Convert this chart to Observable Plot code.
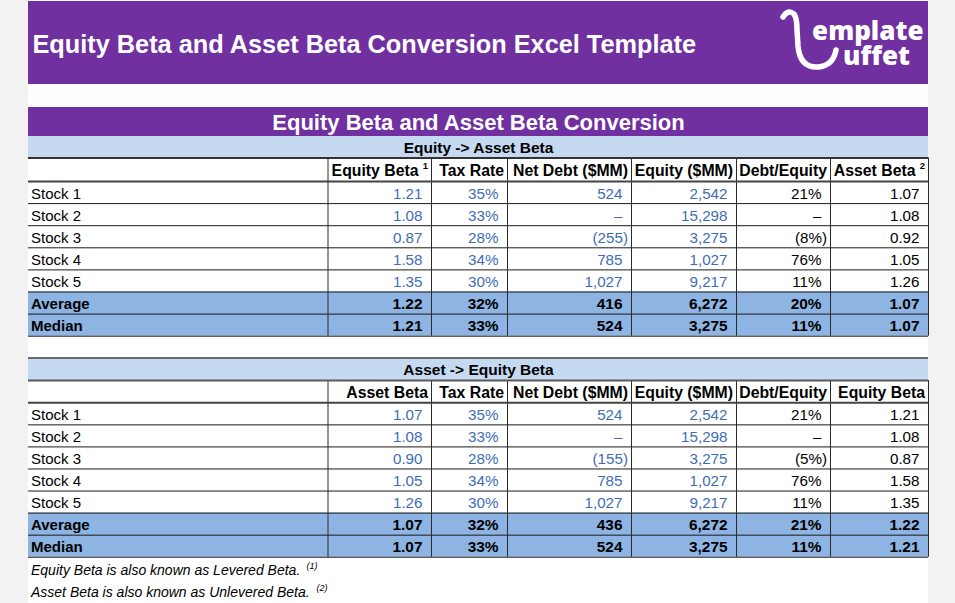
<!DOCTYPE html>
<html><head><meta charset="utf-8">
<script src="https://cdn.jsdelivr.net/npm/d3@7"></script>
<script src="https://cdn.jsdelivr.net/npm/@observablehq/plot@0.6"></script>
<style>
html,body{margin:0;padding:0;background:#f2f2f2;}
#chart svg{display:block;}
</style></head><body><div id="chart"></div>
<script>
// ---------- data ----------
const pageTitle = "Equity Beta and Asset Beta Conversion Excel Template";
const sectionTitle = "Equity Beta and Asset Beta Conversion";
const subTitles = ["Equity -> Asset Beta", "Asset -> Equity Beta"];
const rowLabels = ["Stock 1", "Stock 2", "Stock 3", "Stock 4", "Stock 5", "Average", "Median"];
const headers1 = ["Equity Beta", "Tax Rate", "Net Debt ($MM)", "Equity ($MM)", "Debt/Equity", "Asset Beta"];
const headerNotes1 = ["1", "", "", "", "", "2"];
const headers2 = ["Asset Beta", "Tax Rate", "Net Debt ($MM)", "Equity ($MM)", "Debt/Equity", "Equity Beta"];
const headerNotes2 = ["", "", "", "", "", ""];
const columnKinds = ["beta", "pct", "num", "num", "pct", "beta"];

// Table 1: Equity -> Asset Beta
const equityBeta1 = [1.21, 1.08, 0.87, 1.58, 1.35];
const taxRate1 = [0.35, 0.33, 0.28, 0.34, 0.30];
const netDebt1 = [524, 0, -255, 785, 1027];
const equity1 = [2542, 15298, 3275, 1027, 9217];
const debtEquity1 = [0.21, 0, -0.08, 0.76, 0.11];
const assetBeta1 = [1.07, 1.08, 0.92, 1.05, 1.26];
const average1 = [1.22, 0.32, 416, 6272, 0.20, 1.07];
const median1 = [1.21, 0.33, 524, 3275, 0.11, 1.07];

// Table 2: Asset -> Equity Beta
const assetBeta2 = [1.07, 1.08, 0.90, 1.05, 1.26];
const taxRate2 = [0.35, 0.33, 0.28, 0.34, 0.30];
const netDebt2 = [524, 0, -155, 785, 1027];
const equity2 = [2542, 15298, 3275, 1027, 9217];
const debtEquity2 = [0.21, 0, -0.05, 0.76, 0.11];
const equityBeta2 = [1.21, 1.08, 0.87, 1.58, 1.35];
const average2 = [1.07, 0.32, 436, 6272, 0.21, 1.22];
const median2 = [1.07, 0.33, 524, 3275, 0.11, 1.21];

const footnotes = ["Equity Beta is also known as Levered Beta.", "Asset Beta is also known as Unlevered Beta."];
const footnoteMarks = ["(1)", "(2)"];
const logoLines = ["emplate", "uffet"];

// ---------- layout & style ----------
const W = 955, H = 603;
const FONT = "Liberation Sans, Arial, Helvetica, sans-serif";
const PURPLE = "#7030a0", LIGHT = "#c5d9f1", BAND = "#8db4e2", BLUE = "#3f6db5";
const colEdges = [28, 327.5, 431, 507, 631, 736, 830, 928];
const layout = [
  {subTop: 136, headTop: 157.5, rowTop: 181, rowH: 22.1},
  {subTop: 357.5, headTop: 380, rowTop: 402.3, rowH: 22.06}
];
const tables = [
  {headers: headers1, notes: headerNotes1, cols: [equityBeta1, taxRate1, netDebt1, equity1, debtEquity1, assetBeta1], avg: average1, med: median1},
  {headers: headers2, notes: headerNotes2, cols: [assetBeta2, taxRate2, netDebt2, equity2, debtEquity2, equityBeta2], avg: average2, med: median2}
];

const fmtComma = d3.format(",");
function fmt(kind, v) {
  if (kind === "beta") return d3.format(".2f")(v);
  if (v === 0) return "\u2013";
  if (kind === "pct") { const s = Math.round(Math.abs(v) * 100) + "%"; return v < 0 ? `(${s})` : s; }
  return v < 0 ? `(${fmtComma(-v)})` : fmtComma(v);
}

// build derived tables
const bands = [{x1: 28, x2: 928, y1: 0, y2: H, fill: "#ffffff"},
  {x1: 28, x2: 928, y1: 1, y2: 84, fill: PURPLE},
  {x1: 28, x2: 928, y1: 107, y2: 136, fill: PURPLE}];
const cells = [], labels = [], heads = [], notes = [], subs = [];
const thinH = [], thickH = [], vLines = [];
tables.forEach((t, ti) => {
  const L = layout[ti];
  const rowsEnd = L.rowTop + L.rowH * rowLabels.length;
  bands.push({x1: 28, x2: 928, y1: L.subTop, y2: L.headTop, fill: LIGHT});
  bands.push({x1: 28, x2: 928, y1: L.rowTop + L.rowH * 5, y2: rowsEnd, fill: BAND});
  subs.push({x: (28 + 928) / 2, y: (L.subTop + L.headTop) / 2 + 0.8, text: subTitles[ti]});
  thickH.push({y: L.headTop, x1: 28, x2: 928, c: ti === 1 ? "#5a5a5a" : "#333"});
  thickH.push({y: L.rowTop, x1: 28, x2: 928, c: "#444"});
  if (ti === 1) thickH.push({y: L.subTop, x1: 28, x2: 928, c: "#6b6b6b"});
  for (let r = 1; r <= rowLabels.length; r++) thinH.push({y: L.rowTop + L.rowH * r, x1: 28, x2: 928});
  colEdges.slice(1).forEach(x => vLines.push({x, y1: L.headTop, y2: rowsEnd}));
  t.headers.forEach((h, c) => {
    const right = colEdges[c + 2];
    const hasNote = t.notes[c] !== "";
    heads.push({x: right - (hasNote ? 13 : 3.5), y: (L.headTop + L.rowTop) / 2 + 1.5, text: h});
    if (hasNote) notes.push({x: right - 3.5, y: L.headTop + 7.5, text: t.notes[c]});
  });
  rowLabels.forEach((lab, r) => {
    const y = L.rowTop + L.rowH * (r + 0.5) + 1.2;
    labels.push({x: 30.5, y, text: lab, bold: r >= 5});
    columnKinds.forEach((kind, c) => {
      const v = r < 5 ? t.cols[c][r] : (r === 5 ? t.avg[c] : t.med[c]);
      cells.push({x: colEdges[c + 2] - (v < 0 ? 3.5 : 9), y, text: fmt(kind, v),
        fill: (r < 5 && c < 4) ? BLUE : "#000", bold: r >= 5});
    });
  });
});
const foots = footnotes.map((f, i) => ({x: 30.5, y: 570 + 22 * i, text: f}));
const footMarks = footnoteMarks.map((m, i) => ({x: [306, 316][i], y: 566 + 22 * i, text: m}));
// logo as one two-line text (second line padded so it ends further left)
const logoText = logoLines[0] + "\n" + logoLines[1] + "\u00a0\u00a0";

const chart = Plot.plot({
  width: W, height: H,
  margin: 0, marginTop: 0, marginRight: 0, marginBottom: 0, marginLeft: 0,
  x: {domain: [0, W], range: [0, W], axis: null},
  y: {domain: [0, H], range: [0, H], axis: null},
  color: {type: "identity"},
  style: {background: "transparent", fontFamily: FONT, overflow: "visible"},
  marks: [
    Plot.rect(bands, {x1: "x1", x2: "x2", y1: "y1", y2: "y2", fill: "fill"}),
    Plot.ruleY(thinH, {y: "y", x1: "x1", x2: "x2", stroke: "#1a1a1a", strokeWidth: 1}),
    Plot.ruleX(vLines, {x: "x", y1: "y1", y2: "y2", stroke: "#2a2a2a", strokeWidth: 1}),
    Plot.ruleY(thickH, {y: "y", x1: "x1", x2: "x2", stroke: "c", strokeWidth: 2}),
    // titles
    Plot.text([pageTitle], {x: () => 32, y: () => 44, text: d => d, textAnchor: "start", fill: "#fff", fontWeight: "bold", fontSize: 25.3, fontFamily: FONT}),
    Plot.text([sectionTitle], {x: () => 478, y: () => 122, text: d => d, fill: "#fff", fontWeight: "bold", fontSize: 22, fontFamily: FONT}),
    Plot.text(subs, {x: "x", y: "y", text: "text", fill: "#000", fontWeight: "bold", fontSize: 15.5, fontFamily: FONT, ariaLabel: "stretch-s"}),
    // headers
    Plot.text(heads, {x: "x", y: "y", text: "text", textAnchor: "end", fill: "#000", fontWeight: "bold", fontSize: 15.8, fontFamily: FONT, ariaLabel: "stretch-s"}),
    Plot.text(notes, {x: "x", y: "y", text: "text", textAnchor: "end", fill: "#000", fontWeight: "bold", fontSize: 9.5, fontFamily: FONT}),
    // row labels
    Plot.text(labels.filter(d => !d.bold), {x: "x", y: "y", text: "text", textAnchor: "start", fill: "#000", fontSize: 15, fontFamily: FONT, ariaLabel: "stretch"}),
    Plot.text(labels.filter(d => d.bold), {x: "x", y: "y", text: "text", textAnchor: "start", fill: "#000", fontWeight: "bold", fontSize: 15, fontFamily: FONT, ariaLabel: "stretch-s"}),
    // values
    Plot.text(cells.filter(d => !d.bold), {x: "x", y: "y", text: "text", textAnchor: "end", fill: "fill", fontSize: 15.2, fontFamily: FONT, ariaLabel: "stretch"}),
    Plot.text(cells.filter(d => d.bold), {x: "x", y: "y", text: "text", textAnchor: "end", fill: "fill", fontWeight: "bold", fontSize: 15.4, fontFamily: FONT, ariaLabel: "stretch-s"}),
    // footnotes
    Plot.text(foots, {x: "x", y: "y", text: "text", textAnchor: "start", fill: "#000", fontStyle: "italic", fontSize: 14, fontFamily: FONT}),
    Plot.text(footMarks, {x: "x", y: "y", text: "text", textAnchor: "start", fill: "#000", fontStyle: "italic", fontSize: 9, fontFamily: FONT}),
    // logo text
    Plot.text([logoText], {x: () => 923, y: () => 44, text: d => d, textAnchor: "end", lineHeight: 0.95, fill: "#fff", fontWeight: 800, fontSize: 26, fontFamily: "Open Sans, Lato, sans-serif"})
  ]
});

// vertical stretch to mimic the reference's taller cell glyphs
function stretch(sel, k) {
  d3.select(chart).selectAll(sel).each(function() {
    const tr = this.getAttribute("transform");
    if (tr) this.setAttribute("transform", tr + ` scale(1,${k})`);
    else {
      const x = +this.getAttribute("x") || 0, y = +this.getAttribute("y") || 0;
      this.removeAttribute("x"); this.removeAttribute("y");
      this.setAttribute("transform", `translate(${x},${y}) scale(1,${k})`);
    }
  });
}
stretch('g[aria-label="stretch"] text', 1.16);
stretch('g[aria-label="stretch-s"] text', 1.05);

// logo ladle glyph (decoration)
d3.select(chart).append("path")
  .attr("d", "M783,17 Q788,9 794,14 Q797,18 797,30 L798,46 Q800,68 818,67 Q833,66 836,50")
  .attr("fill", "none").attr("stroke", "#fff").attr("stroke-width", 5.5).attr("stroke-linecap", "round");

document.getElementById("chart").appendChild(chart);
</script></body></html>
